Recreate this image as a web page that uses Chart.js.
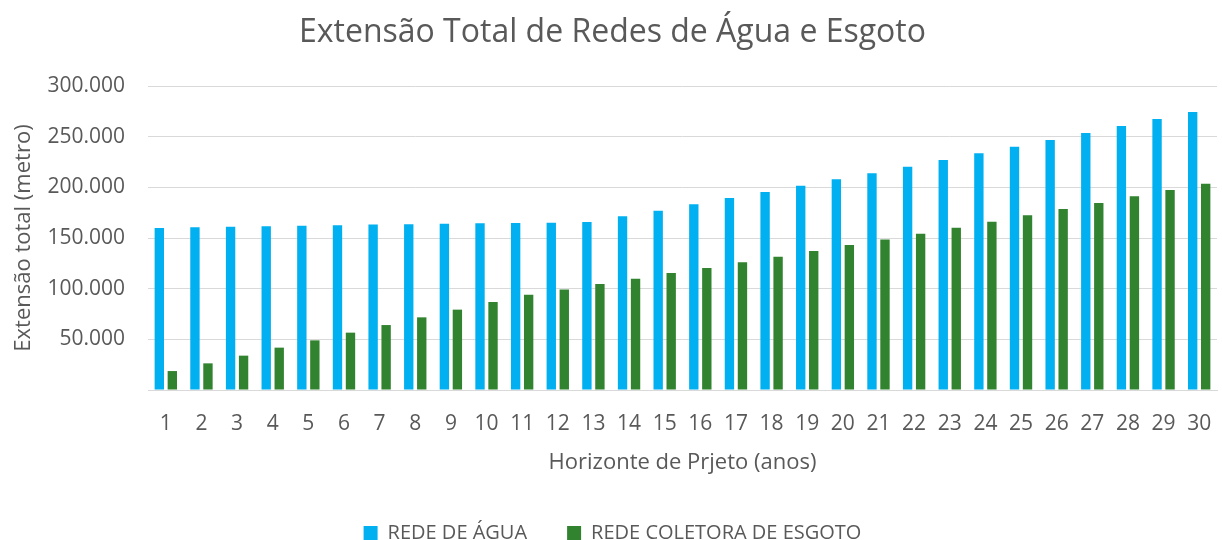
<!DOCTYPE html>
<html>
<head>
<meta charset="utf-8">
<script src="https://cdn.jsdelivr.net/npm/chart.js@4/dist/chart.umd.min.js"></script>
<style>
  html, body { margin: 0; padding: 0; background: #fff; }
  #wrap { width: 1222px; height: 540px; }
</style>
</head>
<body>
<div id="wrap"><canvas id="chart" width="1222" height="540"></canvas></div>
<script>
// ── Data ──────────────────────────────────────────────────
const years = ["1","2","3","4","5","6","7","8","9","10","11","12","13","14","15",
  "16","17","18","19","20","21","22","23","24","25","26","27","28","29","30"];
const redeAgua = [159900, 160500, 161200, 161500, 162200, 162500, 163200, 163500, 164100, 164500,
  164800, 165100, 165800, 171400, 177000, 183200, 189500, 195400, 201600, 207900,
  213800, 220400, 227000, 233600, 240100, 246700, 253600, 260500, 267400, 274300];
const redeEsgoto = [18700, 26300, 33900, 41800, 49000, 56600, 64100, 71700, 79300, 86800,
  94100, 99300, 104600, 109900, 115500, 120400, 126000, 131600, 137200, 143100,
  148400, 154300, 160200, 166100, 172400, 178600, 184500, 191100, 197400, 203600];
const yTicks = [0, 50000, 100000, 150000, 200000, 250000, 300000];

const FONT = "'Open Sans', sans-serif";
const GREY = "#595959";

function fmt(v) {
  return String(v).replace(/\B(?=(\d{3})+(?!\d))/g, ".");
}

new Chart(document.getElementById("chart"), {
  type: "bar",
  data: {
    labels: years,
    datasets: [
      { label: "REDE DE ÁGUA", data: redeAgua, backgroundColor: "#00B0F0",
        categoryPercentage: 0.73, barPercentage: 0.72 },
      { label: "REDE COLETORA DE ESGOTO", data: redeEsgoto, backgroundColor: "#31832F",
        categoryPercentage: 0.73, barPercentage: 0.72 }
    ]
  },
  options: {
    responsive: false,
    animation: false,
    layout: { padding: { left: 8, right: 5, top: 8, bottom: -13 } },
    plugins: {
      title: {
        display: true,
        text: "Extensão Total de Redes de Água e Esgoto",
        color: GREY,
        font: { family: FONT, size: 32, weight: "normal" },
        padding: { top: 6, bottom: 33.6 }
      },
      legend: {
        position: "bottom",
        labels: {
          color: GREY,
          font: { family: FONT, size: 20 },
          boxWidth: 14, boxHeight: 14,
          padding: 40
        }
      },
      tooltip: { enabled: false }
    },
    scales: {
      x: {
        afterFit: (s) => { s.height = 93; s.paddingLeft = 0; s.paddingRight = 0; },
        grid: { display: false, drawTicks: false },
        border: { display: true, color: "#D9D9D9", width: 1 },
        ticks: { color: GREY, font: { family: FONT, size: 21 }, padding: 21, maxRotation: 0 },
        title: {
          display: true, text: "Horizonte de Prjeto (anos)", color: GREY,
          font: { family: FONT, size: 22 }, padding: { top: 13, bottom: 7 }
        }
      },
      y: {
        min: 0, max: 300000,
        afterBuildTicks: (s) => { s.ticks = yTicks.map(v => ({ value: v })); },
        afterFit: (s) => { s.width = 140; },
        grid: { color: "#D9D9D9", lineWidth: 1, drawTicks: false },
        border: { display: false },
        ticks: {
          color: GREY, font: { family: FONT, size: 21 }, padding: 23,
          callback: (v) => v === 0 ? "" : fmt(v)
        },
        title: {
          display: true, text: "Extensão total (metro)", color: GREY,
          font: { family: FONT, size: 22 }, padding: { top: 3, bottom: 4 }
        }
      }
    }
  }
});
</script>
</body>
</html>
